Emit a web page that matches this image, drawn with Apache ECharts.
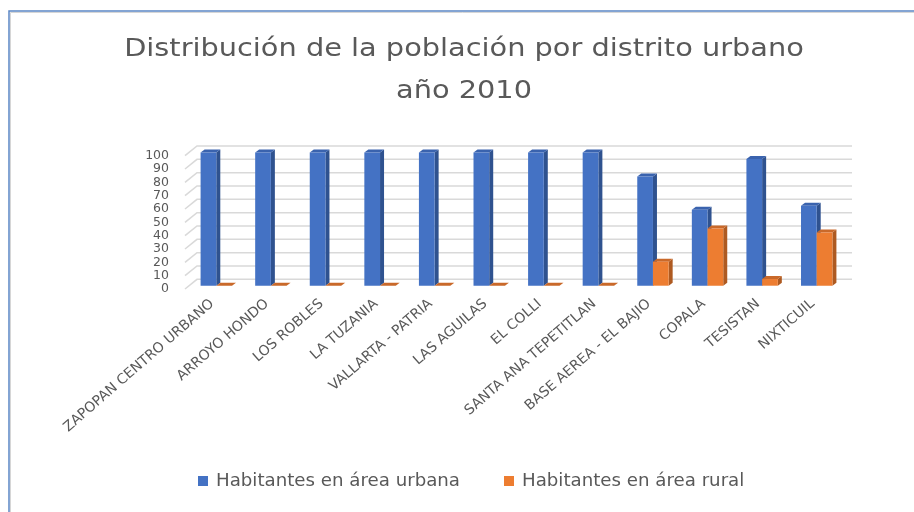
<!DOCTYPE html>
<html>
<head>
<meta charset="utf-8">
<script src="https://cdn.jsdelivr.net/npm/echarts@6/dist/echarts.min.js"></script>
<style>
  html, body { margin: 0; padding: 0; background: #ffffff; }
  #chart { width: 914px; height: 512px; }
</style>
</head>
<body>
<div id="chart"></div>
<script>
// Distritos urbanos y porcentaje de habitantes (2010)
const districts = [
  'ZAPOPAN CENTRO URBANO', 'ARROYO HONDO', 'LOS ROBLES', 'LA TUZANIA',
  'VALLARTA - PATRIA', 'LAS AGUILAS', 'EL COLLI', 'SANTA ANA TEPETITLAN',
  'BASE AEREA - EL BAJIO', 'COPALA', 'TESISTAN', 'NIXTICUIL'
];
const urbanShare = [100, 100, 100, 100, 100, 100, 100, 100, 82, 57, 95, 60];
const ruralShare = [0, 0, 0, 0, 0, 0, 0, 0, 18, 43, 5, 40];
const yTicks = [0, 10, 20, 30, 40, 50, 60, 70, 80, 90, 100];

const titleLines = ['Distribución de la población por distrito urbano', 'año 2010'];
const seriesNames = ['Habitantes en área urbana', 'Habitantes en área rural'];
const FONT = '"DejaVu Sans", "Open Sans", sans-serif';
const TEXT = '#595959';

// pseudo-3D geometry (pixels)
const BAR_W = 15.7;               // front face width
const BAR_DX = 4, BAR_DY = -3;    // bar depth
const FRONT_DX = 4, FRONT_DY = -3.3; // bar front plane vs floor edge
const WALL_DX = 12, WALL_DY = -9.7;  // back wall vs floor edge

const palette = [
  { front: '#4472C4', side: '#2F528F', top: '#3A63AE' },
  { front: '#ED7D31', side: '#AE5A21', top: '#C9692A' }
];

function bar3d(slot) {
  const c = palette[slot];
  return function (params, api) {
    const cat = api.value(0);
    const val = api.value(1);
    const t = api.coord([cat, val]);
    const b = api.coord([cat, 0]);
    const x0 = t[0] + FRONT_DX + (slot === 0 ? -BAR_W : 0);
    const x1 = x0 + BAR_W;
    const yt = t[1] + FRONT_DY;
    const yb = b[1] + FRONT_DY;
    return {
      type: 'group',
      children: [
        { type: 'polygon', shape: { points: [[x1, yt], [x1 + BAR_DX, yt + BAR_DY], [x1 + BAR_DX, yb + BAR_DY], [x1, yb]] },
          style: { fill: c.side } },
        { type: 'polygon', shape: { points: [[x0, yt], [x0 + BAR_DX, yt + BAR_DY], [x1 + BAR_DX, yt + BAR_DY], [x1, yt]] },
          style: { fill: c.top } },
        { type: 'rect', shape: { x: x0, y: yt, width: BAR_W, height: yb - yt },
          style: { fill: c.front } }
      ]
    };
  };
}

// side wall + back wall gridlines at each tick
function wallLine(params, api) {
  const cs = params.coordSys;
  const y = api.coord([0, api.value(1)])[1];
  return {
    type: 'polyline',
    shape: { points: [[cs.x, y], [cs.x + WALL_DX, y + WALL_DY], [cs.x + cs.width + WALL_DX, y + WALL_DY]] },
    style: { stroke: '#D9D9D9', lineWidth: 1.5, fill: null }
  };
}

// widened title text, centred on x = 464
const titleGraphics = titleLines.map((line, i) => ({
  type: 'text', silent: true, x: 464, y: 50 + i * 42, scaleX: 1.2,
  style: { text: line, fontFamily: FONT, fontSize: 24, fill: TEXT, align: 'center', verticalAlign: 'middle' }
}));

const chart = echarts.init(document.getElementById('chart'), null, { renderer: 'canvas' });

chart.setOption({
  backgroundColor: '#ffffff',
  animation: false,
  legend: {
    data: seriesNames,
    top: 472,
    left: 198,
    padding: 0,
    icon: 'rect',
    itemWidth: 10,
    itemHeight: 10,
    itemGap: 44,
    textStyle: { fontFamily: FONT, fontSize: 18.2, color: TEXT, padding: [0, 0, 0, 3] }
  },
  grid: { left: 185, right: 74, top: 155.7, bottom: 223 },
  xAxis: {
    type: 'category',
    data: districts,
    axisLine: { show: false },
    axisTick: { show: false },
    axisLabel: { rotate: 41, margin: 13, interval: 0, fontFamily: FONT, fontSize: 14, color: TEXT }
  },
  yAxis: {
    type: 'value',
    min: 0, max: 100, interval: 10,
    axisLine: { show: false },
    axisTick: { show: false },
    splitLine: { show: false },
    axisLabel: { margin: 16, fontFamily: FONT, fontSize: 12.5, lineHeight: 12, color: TEXT,
                 showMinLabel: true, showMaxLabel: true, hideOverlap: false }
  },
  graphic: [
    { type: 'rect', silent: true, shape: { x: 10.5, y: 12.5, width: 920, height: 520 },
      style: { fill: null, stroke: '#D6D6D6', lineWidth: 1 } },
    { type: 'rect', silent: true, shape: { x: 9, y: 11, width: 920, height: 520 },
      style: { fill: null, stroke: '#5B87C5', lineWidth: 1.5 } }
  ].concat(titleGraphics),
  series: [
    { type: 'custom', name: 'wall', silent: true, z: 1,
      data: yTicks.map(v => [0, v]), renderItem: wallLine },
    { type: 'custom', name: seriesNames[0], z: 2, itemStyle: { color: palette[0].front },
      data: urbanShare.map((v, i) => [i, v]), renderItem: bar3d(0) },
    { type: 'custom', name: seriesNames[1], z: 3, itemStyle: { color: palette[1].front },
      data: ruralShare.map((v, i) => [i, v]), renderItem: bar3d(1) }
  ]
});
</script>
</body>
</html>
